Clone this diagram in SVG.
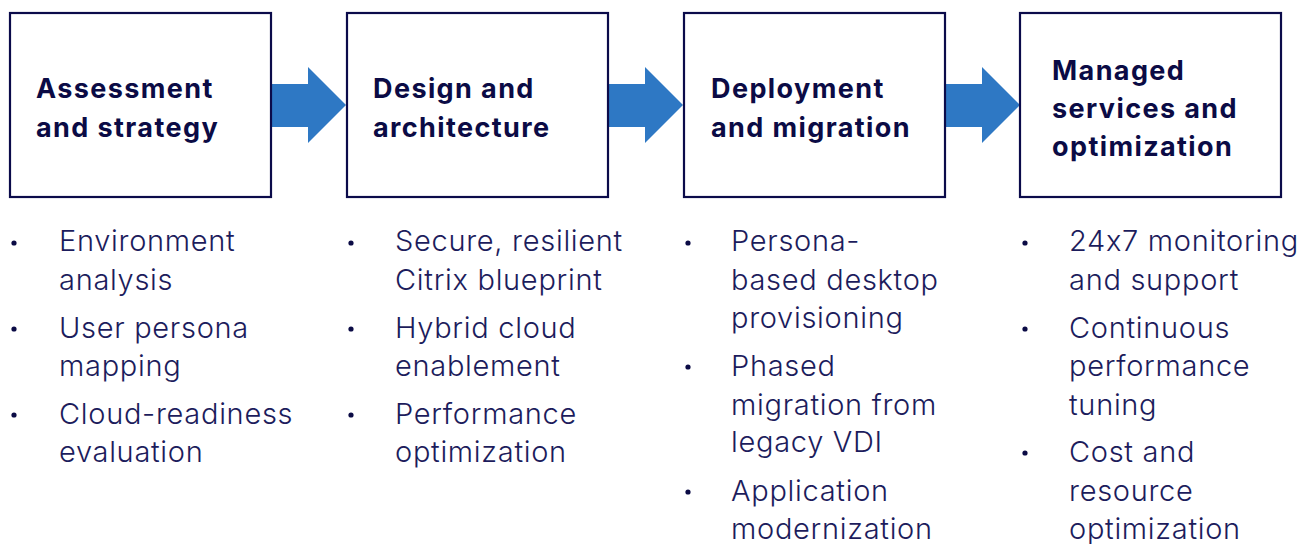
<svg xmlns="http://www.w3.org/2000/svg" width="1311" height="544" viewBox="0 0 1311 544">
<style>
.box{fill:#fff;stroke:#0b0b4a;stroke-width:2.2}
.title{font-family:Inter,"Noto Sans",sans-serif;font-weight:700;font-size:27px;letter-spacing:1.4px;fill:#0b0b45}
.body{font-family:Inter,"Noto Sans",sans-serif;font-weight:300;font-size:29px;letter-spacing:0.7px;fill:#1c1c5c;font-feature-settings:"calt" 0}
.dot{fill:#0b0b45}
.arrow{fill:#2e78c4}
</style>
<rect width="1311" height="544" fill="#fff"/>
<g id="connectors">
<polygon class="arrow" points="271,84 308,84 308,67 346,105 308,143 308,127 271,127"/>
<polygon class="arrow" points="608,84 645,84 645,67 683,105 645,143 645,127 608,127"/>
<polygon class="arrow" points="945,84 982,84 982,67 1020,105 982,143 982,127 945,127"/>
</g>
<g id="node1">
<rect class="box" x="10" y="13" width="261" height="184"/>
<text class="title" x="36" y="98">Assessment</text>
<text class="title" x="36" y="137">and strategy</text>
<circle class="dot" cx="14" cy="243" r="2.6"/><circle class="dot" cx="14" cy="329" r="2.6"/><circle class="dot" cx="14" cy="415" r="2.6"/>
<text class="body" x="59" y="251">Environment</text>
<text class="body" x="59" y="290">analysis</text>
<text class="body" x="59" y="338">User persona</text>
<text class="body" x="59" y="376">mapping</text>
<text class="body" x="59" y="424">Cloud-readiness</text>
<text class="body" x="59" y="462">evaluation</text>
</g>
<g id="node2">
<rect class="box" x="347" y="13" width="261" height="184"/>
<text class="title" x="373" y="98">Design and</text>
<text class="title" x="373" y="137">architecture</text>
<circle class="dot" cx="351" cy="243" r="2.6"/><circle class="dot" cx="351" cy="329" r="2.6"/><circle class="dot" cx="351" cy="415" r="2.6"/>
<text class="body" x="395" y="251">Secure, resilient</text>
<text class="body" x="395" y="290">Citrix blueprint</text>
<text class="body" x="395" y="338">Hybrid cloud</text>
<text class="body" x="395" y="376">enablement</text>
<text class="body" x="395" y="424">Performance</text>
<text class="body" x="395" y="462">optimization</text>
</g>
<g id="node3">
<rect class="box" x="684" y="13" width="261" height="184"/>
<text class="title" x="711" y="98">Deployment</text>
<text class="title" x="711" y="137">and migration</text>
<circle class="dot" cx="688" cy="243" r="2.6"/><circle class="dot" cx="688" cy="367" r="2.6"/><circle class="dot" cx="688" cy="492" r="2.6"/>
<text class="body" x="731" y="251">Persona-</text>
<text class="body" x="731" y="290">based desktop</text>
<text class="body" x="731" y="328">provisioning</text>
<text class="body" x="731" y="376">Phased</text>
<text class="body" x="731" y="415">migration from</text>
<text class="body" x="731" y="452">legacy VDI</text>
<text class="body" x="731" y="501">Application</text>
<text class="body" x="731" y="539">modernization</text>
</g>
<g id="node4">
<rect class="box" x="1020" y="13" width="261" height="184"/>
<text class="title" x="1052" y="80">Managed</text>
<text class="title" x="1052" y="118">services and</text>
<text class="title" x="1052" y="156">optimization</text>
<circle class="dot" cx="1025" cy="243" r="2.6"/><circle class="dot" cx="1025" cy="329" r="2.6"/><circle class="dot" cx="1025" cy="453" r="2.6"/>
<text class="body" x="1069" y="251">24x7 monitoring</text>
<text class="body" x="1069" y="290">and support</text>
<text class="body" x="1069" y="338">Continuous</text>
<text class="body" x="1069" y="376">performance</text>
<text class="body" x="1069" y="415">tuning</text>
<text class="body" x="1069" y="462">Cost and</text>
<text class="body" x="1069" y="501">resource</text>
<text class="body" x="1069" y="539">optimization</text>
</g>
</svg>
